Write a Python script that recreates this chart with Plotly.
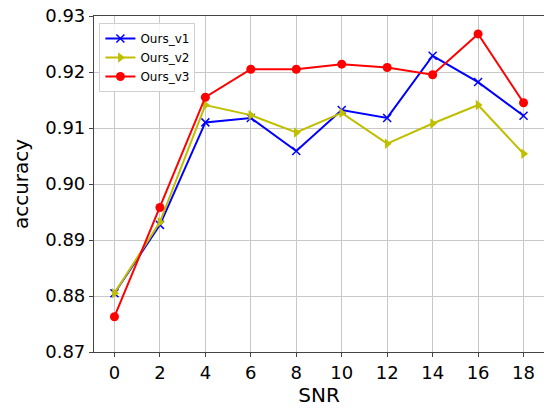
import plotly.graph_objects as go

snr = [0, 2, 4, 6, 8, 10, 12, 14, 16, 18]
ours_v1 = [0.8805, 0.8927, 0.9110, 0.9118, 0.9059, 0.9132, 0.9118, 0.9229, 0.9182, 0.9122]
ours_v2 = [0.8805, 0.8932, 0.9141, 0.9123, 0.9092, 0.9127, 0.9072, 0.9108, 0.9141, 0.9054]
ours_v3 = [0.8763, 0.8958, 0.9155, 0.9205, 0.9205, 0.9214, 0.9208, 0.9195, 0.9268, 0.9145]
x_ticks = [0, 2, 4, 6, 8, 10, 12, 14, 16, 18]
y_ticks = [0.87, 0.88, 0.89, 0.90, 0.91, 0.92, 0.93]

font_family = "DejaVu Sans"

fig = go.Figure()
fig.add_trace(go.Scatter(x=snr, y=ours_v1, mode="lines+markers", name="Ours_v1",
                         line=dict(color="#0000ff", width=2),
                         marker=dict(symbol="x-thin", size=8, line=dict(color="#0000ff", width=1.5))))
fig.add_trace(go.Scatter(x=snr, y=ours_v2, mode="lines+markers", name="Ours_v2",
                         line=dict(color="#bfbf00", width=2),
                         marker=dict(symbol="triangle-right", size=9, color="#bfbf00")))
fig.add_trace(go.Scatter(x=snr, y=ours_v3, mode="lines+markers", name="Ours_v3",
                         line=dict(color="#ff0000", width=2),
                         marker=dict(symbol="circle", size=9, color="#ff0000")))

axis_common = dict(
    showline=True, linecolor="#444444", linewidth=1.2, mirror=True,
    showgrid=True, gridcolor="#c8c8c8", gridwidth=1.2,
    ticks="outside", ticklen=4, tickcolor="#444444", tickwidth=1,
    zeroline=False, automargin=False,
    tickfont=dict(family=font_family, size=18, color="black"),
)

fig.update_layout(
    width=544, height=410,
    margin=dict(l=94, r=0, t=16, b=58),
    paper_bgcolor="white", plot_bgcolor="white",
    font=dict(family=font_family, color="black"),
    showlegend=True,
    legend=dict(x=0.012, y=0.979, xanchor="left", yanchor="top",
                bgcolor="rgba(255,255,255,0.85)", bordercolor="#d0d0d0", borderwidth=1,
                font=dict(family=font_family, size=12, color="black"),
                tracegroupgap=0, itemwidth=30),
    xaxis=dict(range=[-0.9, 18.9], tickvals=x_ticks,
               title=dict(text="SNR", font=dict(family=font_family, size=20), standoff=6),
               **axis_common),
    yaxis=dict(range=[0.87, 0.93], tickvals=y_ticks, tickformat=".2f",
               title=dict(text="accuracy", font=dict(family=font_family, size=20), standoff=11),
               **axis_common),
)

fig.write_html("out.html",
               config={"displayModeBar": False},
               post_script="document.body.style.margin='0';document.body.style.overflow='hidden';")
